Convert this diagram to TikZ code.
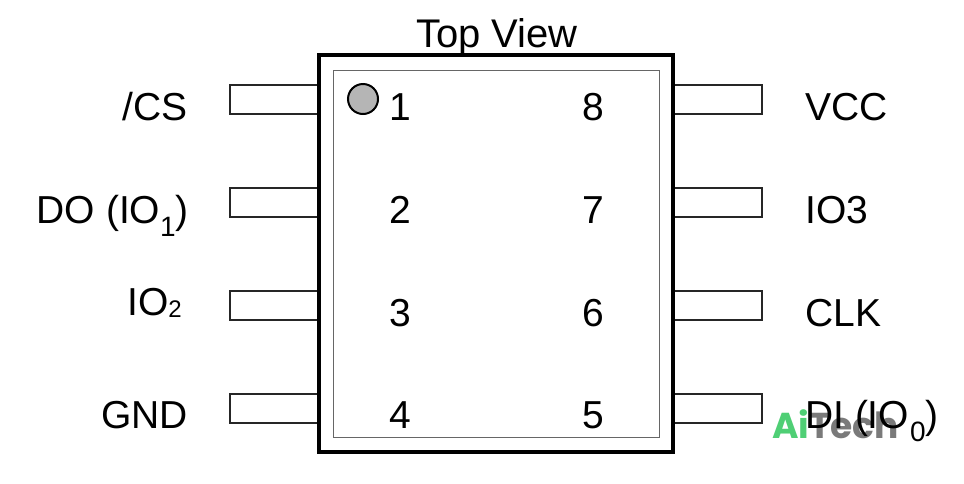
\documentclass[tikz,border=0pt]{standalone}
\usepackage{fontspec}
\setmainfont{Liberation Sans}
\newfontfamily\wmfont{Poppins}[BoldFont={* Bold}]
\usepackage{xcolor}
\usetikzlibrary{positioning}
\definecolor{dotgray}{HTML}{B5B5B5}
\definecolor{wmgreen}{HTML}{4FCF75}
\definecolor{wmgray}{HTML}{7A7A7A}
\newcommand{\bigtext}{\fontsize{39}{39}\selectfont}
\tikzset{
  pinbox/.style={draw=black!85, line width=2pt, fill=white},
  pinnum/.style={font=\bigtext, inner sep=0pt, anchor=base},
  pinleft/.style={font=\bigtext, inner sep=0pt, anchor=base east},
  pinright/.style={font=\bigtext, inner sep=0pt, anchor=base west},
}
\begin{document}
\begin{tikzpicture}[x=1pt,y=-1pt]
 \useasboundingbox (0,0) rectangle (964,483);

 %pins
 \foreach \i/\ytop in { 1/85, 2/188, 3/291, 4/394 } {
   \draw[pinbox] (230,\ytop) rectangle (319,\ytop+29);
   \draw[pinbox] (673,\ytop) rectangle (762,\ytop+29);
 }

 %package
 \draw[line width=4pt] (319,55) rectangle (673,452);
 \draw[black!60, line width=1pt] (333,70) rectangle (659,437);
 \node[circle, draw=black, line width=2pt, fill=dotgray, minimum size=30pt, inner sep=0pt] (dot) at (363,99) {};

 %numbers
 \foreach \name/\xpos/\ybase in { 1/400/120, 2/400/223, 3/400/326, 4/400/428, 8/593/120, 7/593/223, 6/593/326, 5/593/428 } {
   \node[pinnum] (N\name) at (\xpos,\ybase) {\name};
 }

 %labels
 \node[pinleft] (Lcs) at (188,120) {/CS};
 \node[pinleft] (Ldo) at (189,223) {DO (IO\raisebox{-13pt}{\fontsize{28}{28}\selectfont 1})};
 \node[pinleft] (Lio) at (182,315) {IO\raisebox{-2pt}{\fontsize{24}{24}\selectfont 2}};
 \node[pinleft] (Lgnd) at (188,428) {GND};

 \node[pinright] (Rvcc) at (805,120) {VCC};
 \node[pinright] (Rio) at (805,223) {IO3};
 \node[pinright] (Rclk) at (805,326) {CLK};

 %watermark under the last label
 \node[inner sep=0pt, anchor=base west, font=\wmfont\bfseries\fontsize{36}{36}\selectfont] (mark) at (772,438) {\textcolor{wmgreen}{Ai}\textcolor{wmgray}{Tech}};
 \node[pinright] (Rdi) at (805,428) {DI (IO\raisebox{-13pt}{\kern1pt\fontsize{28}{28}\selectfont 0})};

 \node[inner sep=0pt, anchor=base, font=\fontsize{40}{40}\selectfont] (title) at (497,47) {Top View};
\end{tikzpicture}
\end{document}
